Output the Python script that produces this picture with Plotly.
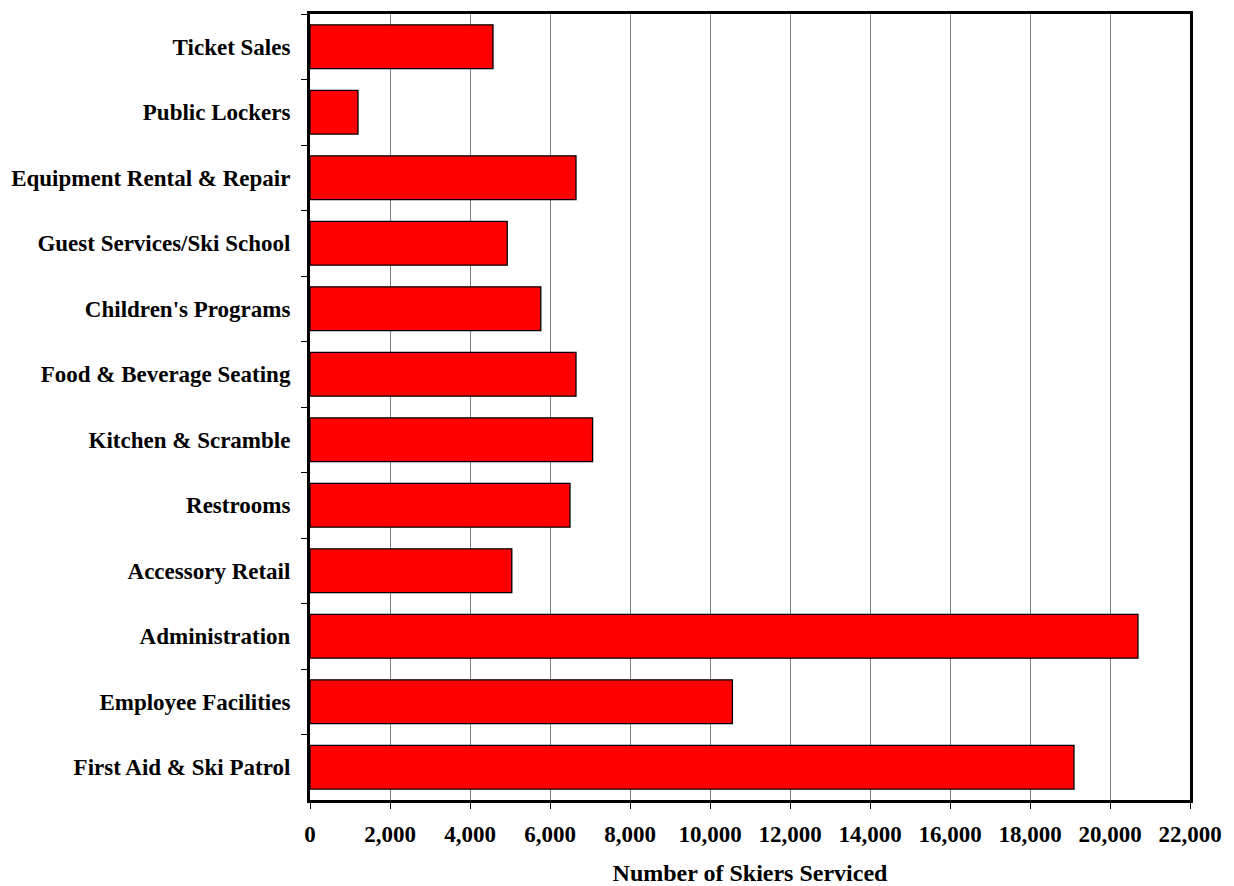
import plotly.graph_objects as go

categories = ["Ticket Sales", "Public Lockers", "Equipment Rental & Repair",
              "Guest Services/Ski School", "Children's Programs",
              "Food & Beverage Seating", "Kitchen & Scramble", "Restrooms",
              "Accessory Retail", "Administration", "Employee Facilities",
              "First Aid & Ski Patrol"]
skiers = [4575, 1200, 6650, 4930, 5770, 6650, 7065, 6500, 5045, 20700, 10560, 19100]
x_ticks = list(range(0, 22001, 2000))
x_tick_labels = [f"{v:,}" for v in x_ticks]

font_family = "Liberation Serif"

fig = go.Figure(go.Bar(
    y=categories, x=skiers, orientation="h",
    marker=dict(color="#FF0000", line=dict(color="black", width=1.3)),
))

fig.update_layout(
    width=1234, height=886,
    margin=dict(l=302, r=52, t=3, b=94),
    plot_bgcolor="white", paper_bgcolor="white",
    bargap=0.33,
    showlegend=False,
    font=dict(family=font_family, color="black"),
)
fig.update_xaxes(
    range=[0, 22000], tickvals=x_ticks, ticktext=x_tick_labels,
    showgrid=True, gridcolor="#7f7f7f", gridwidth=1,
    showline=True, linecolor="black", linewidth=3, mirror=True,
    ticks="outside", ticklen=6, tickcolor="black", tickwidth=1,
    tickfont=dict(family=font_family, size=23, color="black", weight="bold"),
    ticklabelstandoff=5,
    title=dict(text="<b>Number of Skiers Serviced</b>",
               font=dict(family=font_family, size=24, color="black"), standoff=19),
    zeroline=False,
)
fig.update_yaxes(
    autorange="reversed",
    showline=True, linecolor="black", linewidth=3, mirror=True,
    ticks="outside", ticklen=6, tickcolor="black", tickwidth=1,
    tickson="boundaries",
    tickfont=dict(family=font_family, size=23, color="black", weight="bold"),
    ticklabelstandoff=12,
    showgrid=False,
)

fig.write_html("out.html")
